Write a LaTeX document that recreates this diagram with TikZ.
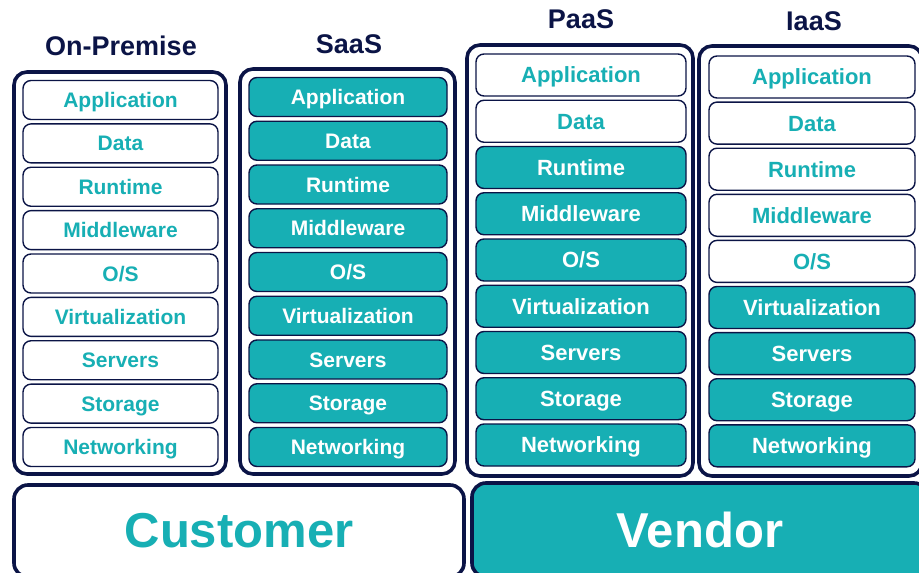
\documentclass[tikz,border=0pt]{standalone}
\usepackage{fontspec}
\setmainfont{Liberation Sans}
\definecolor{cteal}{HTML}{17AFB4}
\definecolor{cnavy}{HTML}{0B1446}

\begin{document}
\begin{tikzpicture}[x=1pt,y=-1pt,
  col/.style={draw=cnavy, line width=3.6pt, rounded corners=13pt, inner sep=0pt},
  lay/.style={draw=cnavy, line width=1.4pt, rounded corners=8pt, inner sep=0pt, text depth=0pt},
  ttl/.style={text=cnavy, font=\bfseries\fontsize{27}{27}\selectfont},
  side/.style={draw=cnavy, line width=3.6pt, rounded corners=14pt, font=\bfseries\fontsize{49}{49}\selectfont}]
\useasboundingbox (0,0) rectangle (919,573);
\draw
(120,273) node [col, minimum width=212, minimum height=402] (opbox) {}
(347.5,271.5) node [col, minimum width=215, minimum height=405] (sabox) {}
(580,260.5) node [col, minimum width=226, minimum height=431] (pabox) {}
(810.5,261) node [col, minimum width=223, minimum height=430] (iabox) {};
\draw
(121,46) node [ttl] (optitle) {On-Premise}
(349,44) node [ttl] (satitle) {SaaS}
(581,19) node [ttl] (patitle) {PaaS}
(814,21) node [ttl] (iatitle) {IaaS};
% layers, teal from index k+1 down
\foreach \c/\x/\y/\w/\h/\p/\k/\fs/\th in {op/120.5/100/195/39/43.375/9/21/15, sa/348/97/198/39/43.75/0/21/15, pa/581/75/210/42/46.25/2/22/15.8, ia/812/77/206/42/46.1/5/22/15.8}{
  \foreach \t [count=\i] in {Application,Data,Runtime,Middleware,{O/S},Virtualization,Servers,Storage,Networking}{
    \ifnum\i>\k \def\fc{cteal}\def\tc{white}\else \def\fc{white}\def\tc{cteal}\fi
    \node [lay, fill=\fc, text=\tc, minimum width=\w, minimum height=\h, text height=\th pt,
      font=\bfseries\fontsize{\fs}{\fs}\selectfont] (\c\i) at (\x,\y+\p*\i-\p) {\t};
  }
}
\draw
(239,531) node [side, fill=white, text=cteal, minimum width=450, minimum height=92] (customer) {Customer}
(700,530) node [side, fill=cteal, text=white, minimum width=456, minimum height=94] (vendor) {Vendor};
\end{tikzpicture}
\end{document}
